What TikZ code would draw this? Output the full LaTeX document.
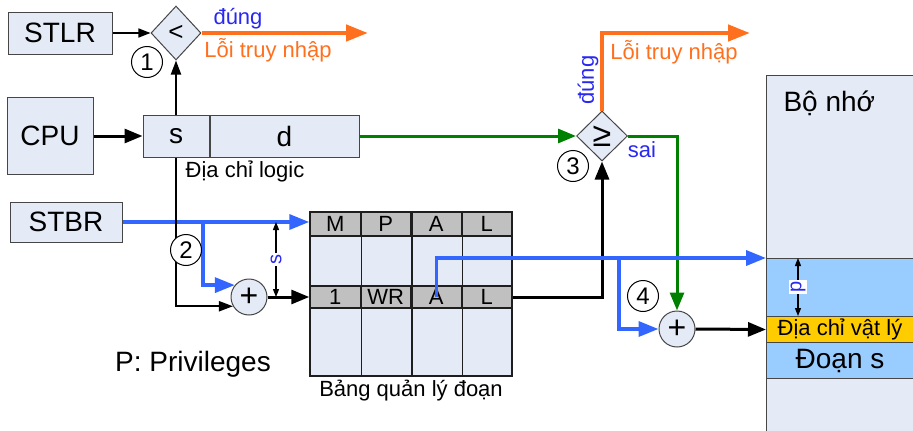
\documentclass[tikz,border=0pt]{standalone}
\usepackage{fontspec}
\setmainfont{Liberation Sans}
\usetikzlibrary{arrows.meta,positioning,shapes.geometric,calc}
\definecolor{boxfill}{RGB}{228,235,247}
\definecolor{boxline}{RGB}{70,70,70}
\definecolor{gridline}{RGB}{30,30,30}
\definecolor{errorange}{RGB}{255,112,30}
\definecolor{linkblue}{RGB}{51,102,255}
\definecolor{textblue}{RGB}{40,40,240}
\definecolor{okgreen}{RGB}{0,128,0}
\definecolor{rowgray}{RGB}{192,192,192}
\definecolor{segblue}{RGB}{153,204,255}
\definecolor{addryellow}{RGB}{255,204,0}

\begin{document}
\begin{tikzpicture}[x=1pt, y=-1pt,
    box/.style={rectangle, draw=boxline, fill=boxfill, line width=1pt, inner sep=0pt,
      font=\fontsize{28}{30}\selectfont},
    cmp/.style={diamond, draw=boxline, fill=boxfill, line width=1pt, inner sep=0pt,
      font=\fontsize{26}{28}\selectfont},
    adder/.style={circle, draw=boxline, fill=boxfill, line width=1pt, minimum size=36pt,
      inner sep=0pt, font=\fontsize{32}{32}\selectfont},
    stepnum/.style={circle, draw=black, fill=white, line width=1pt, minimum size=31pt,
      inner sep=0pt, font=\fontsize{24}{24}\selectfont},
    cell/.style={rectangle, draw=gridline, fill=rowgray, line width=1.5pt, minimum width=50.5pt,
      inner sep=0pt, font=\fontsize{22}{22}\selectfont},
    memband/.style={rectangle, draw=boxline, line width=1pt, minimum width=147pt, inner sep=0pt,
      anchor=north west},
    lbl/.style={font=\fontsize{22}{24}\selectfont},
    biglbl/.style={font=\fontsize{28}{30}\selectfont},
    oklbl/.style={text=textblue, font=\fontsize{22}{24}\selectfont},
    errlbl/.style={text=errorange, font=\fontsize{22}{24}\selectfont},
    dimlbl/.style={text=textblue, fill=white, inner sep=1.5pt, font=\fontsize{20}{20}\selectfont},
    thinarrow/.style={line width=1.4pt, -{Triangle[length=12pt,width=9pt]}},
    midarrow/.style={line width=2pt, -{Triangle[length=14pt,width=10pt]}},
    bigarrow/.style={line width=3pt, -{Triangle[length=18pt,width=14pt]}},
    errarrow/.style={errorange, line width=4.5pt, -{Triangle[length=22pt,width=16pt]}},
    bluearrow/.style={linkblue, line width=3.5pt, -{Triangle[length=20pt,width=15pt]}},
    okarrow/.style={okgreen, line width=3pt, -{Triangle[length=18pt,width=14pt]}},
    dimline/.style={line width=1.2pt, {Triangle[length=8pt,width=6pt]}-{Triangle[length=8pt,width=6pt]}}
  ]
    \useasboundingbox (0,0) rectangle (913,431);
    % Registers and CPU
    \node[box, minimum width=104pt, minimum height=42pt] (stlr) at (60,33) {STLR};
    \node[box, minimum width=86pt, minimum height=77pt] (cpu) at (50,136) {CPU};
    \node[box, minimum width=112pt, minimum height=40pt] (stbr) at (66,222) {STBR};
    % Logical address
    \node[box, minimum width=66pt, minimum height=42pt] (segs) at (176,136) {s};
    \node[box, minimum width=149pt, minimum height=42pt, right=0pt of segs] (offd) {d};
    \node[lbl] (logic) at (245,171) {Địa chỉ logic};
    % Comparators
    \node[cmp, minimum width=50pt, minimum height=54pt] (lt) at (176,33) {<};
    \node[cmp, minimum width=51pt, minimum height=50pt, font=\fontsize{34}{34}\selectfont] (ge) at (602,136) {≥};
    % Segment table
    \node[draw=gridline, fill=boxfill, line width=1.5pt, minimum width=202pt, minimum height=164pt,
      inner sep=0pt] (tbl) at (411,294) {};
    \foreach \t [count=\i] in {M,P,A,L}
      \node[cell, minimum height=24pt] (h\i) at (284.75+50.5*\i, 224) {\t};
    \foreach \t [count=\i] in {1,WR,A,L}
      \node[cell, minimum height=22pt] (r\i) at (284.75+50.5*\i, 297) {\t};
    \foreach \i in {1,2,3}
      \draw[gridline, line width=1.5pt] (h\i.north east) -- (h\i.north east |- tbl.south);
    \node[lbl, below=0pt of tbl] (tbllbl) {Bảng quản lý đoạn};
    % Memory
    \node[memband, fill=boxfill, minimum height=356pt] (mem) at (766,75) {};
    \node[memband, fill=segblue, minimum height=58pt] (segtop) at (766,258) {};
    \node[memband, fill=addryellow, minimum height=26pt, lbl] (paddr) at (766,316) {Địa chỉ vật lý};
    \node[memband, fill=segblue, minimum height=36pt, biglbl] (segbody) at (766,342) {Đoạn s};
    \node[biglbl, anchor=west] (memlbl) at (780,103) {Bộ nhớ};
    % Adders
    \node[adder] (add1) at (249,297) {+};
    \node[adder] (add2) at (677,329) {+};
    \node[biglbl] (privnote) at (193,364) {P: Privileges};
    % Step 1: limit check
    \coordinate (err1) at (368,33);
    \draw[thinarrow] (stlr) -- (lt);
    \draw[errarrow] (lt.east) -- (err1);
    \node[oklbl] (ok1) at (238,19) {đúng};
    \node[errlbl] (errtxt1) at (268,50) {Lỗi truy nhập};
    \draw[bigarrow] (cpu.east |- segs) -- (segs.west);
    \draw[midarrow] (segs.north) -- (lt.south);
    % Step 2: table lookup
    \coordinate (br1) at (203,222);
    \coordinate (s1) at (276,222);
    \coordinate (s2) at (276,297);
    \draw[bluearrow] (stbr.east) -- (stbr.east -| h1.west);
    \draw[bluearrow] (br1) |- (add1.140);
    \draw[midarrow] (segs.south) |- (add1.210);
    \draw[bigarrow] (add1.east) -- (r1.west);
    \draw[dimline] (s1) -- node[dimlbl, rotate=90] {s} (s2);
    % Step 3: offset check
    \coordinate (err2) at (750,33);
    \draw[okarrow] (offd) -- (ge);
    \draw[errarrow] (ge.north) |- (err2);
    \node[oklbl, rotate=90] (ok2) at (588,80) {đúng};
    \node[errlbl] (errtxt2) at (674,52) {Lỗi truy nhập};
    \node[oklbl] (nolbl) at (642,150) {sai};
    \draw[okarrow] (ge.east) -| (add2.north);
    \draw[bigarrow] (r4.east) -| (ge.south);
    % Step 4: physical address
    \coordinate (br2) at (619,258);
    \coordinate (p1) at (798,258);
    \coordinate (p2) at (798,316);
    \draw[bluearrow] (r3.center) |- (segtop.north west);
    \draw[bluearrow] (br2) |- (add2.west);
    \draw[bigarrow] (add2.east) -- (paddr.west);
    \draw[dimline] (p1) -- node[dimlbl, rotate=90] {p} (p2);
    % Step numbers
    \node[stepnum] (n1) at (147,62) {1};
    \node[stepnum] (n2) at (186,250) {2};
    \node[stepnum] (n3) at (573,166) {3};
    \node[stepnum] (n4) at (643,296) {4};
  \end{tikzpicture}
\end{document}
